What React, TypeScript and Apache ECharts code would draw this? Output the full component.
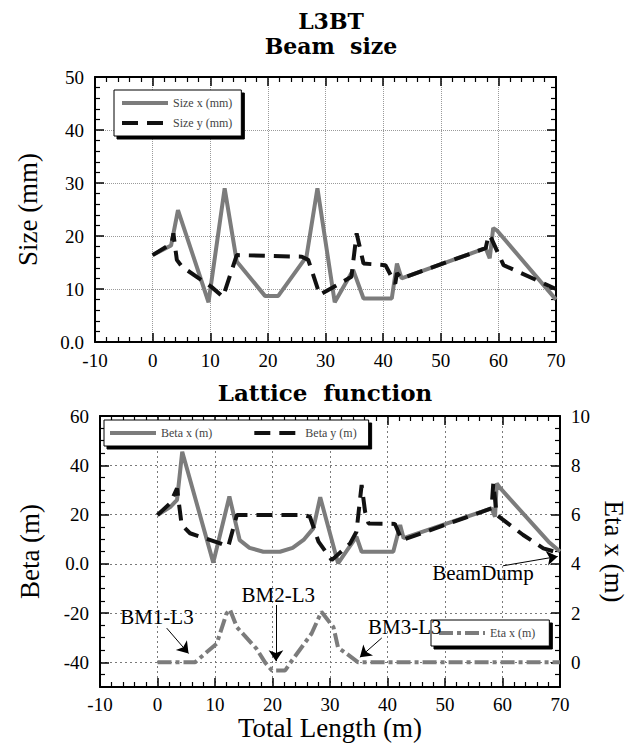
import { useEffect, useRef } from 'react';
import * as echarts from 'echarts';

// ---------- data (x in m) ----------
const sizeX: [number, number][] = [
  [0, 16.4], [3.2, 18.2], [4.4, 24.9], [9.7, 7.5], [12.5, 29], [14.6, 15.2], [19.5, 8.7], [21.8, 8.7],
  [26.7, 16.1], [28.6, 29], [31.6, 7.5], [34.8, 13.6], [36.6, 8.2], [41.5, 8.2], [42.4, 14.8], [43.2, 12],
  [57.8, 17.7], [58.5, 15.8], [59.1, 21.5], [59.8, 21], [70, 8],
];
const sizeY: [number, number][] = [
  [0, 16.4], [3.3, 18.6], [3.6, 20.5], [4.2, 15.5], [5.1, 14.2], [10.2, 10.4], [12.2, 8.5], [14.6, 16.4],
  [25.9, 16.1], [27, 15.5], [29, 8.9], [34.5, 12.3], [35.4, 20.5], [36.6, 14.8], [40.4, 14.5], [42.1, 11],
  [42.4, 13], [43.2, 12], [57.8, 17.7], [58.3, 20.2], [58.8, 19.5], [60.9, 14.5], [70, 10],
];
const betaX: [number, number][] = [
  [0, 19.8], [2.2, 23], [3.4, 26], [4.3, 45.5], [9.7, 0.5], [12.5, 27.3], [14.3, 9.6], [16, 6.5],
  [18.4, 4.9], [21.3, 4.9], [23.5, 6.5], [25.4, 9.7], [27.1, 14.4], [28.3, 27], [31.4, 0.2], [34.6, 11],
  [35.5, 4.9], [41, 4.9], [42.2, 15.8], [42.8, 10.4], [58.1, 22.5], [58.7, 19.1], [59, 32.7], [59.5, 31],
  [68, 9], [70, 5],
];
const betaY: [number, number][] = [
  [0, 19.8], [2.2, 24.6], [3.4, 30.6], [4.2, 15.8], [5.65, 12.4], [10.9, 8.3], [12.3, 7], [13.8, 19.8],
  [25.4, 19.8], [26.5, 19.1], [28, 9], [30.3, 1.5], [33.5, 8.3], [34.6, 13], [35.5, 32], [36.1, 21.2],
  [36.7, 16.4], [41.3, 16.2], [42.5, 9.6], [58.1, 22.5], [58.4, 32.7], [59, 19.8], [63.6, 11.7],
  [67.1, 6.3], [70, 4.3],
];
const etaX: [number, number][] = [
  [0, 0], [6.5, 0], [10.3, 0.76], [12, 1.98], [12.6, 2.14], [13.8, 1.43], [17.2, 0.56], [18.7, 0],
  [19.9, -0.33], [22.2, -0.33], [23, -0.05], [26.8, 1.17], [28.5, 2.05], [30.6, 1.43], [31.4, 0.6],
  [32.9, 0.35], [34.9, 0], [70, 0],
];

// annotations (Total Length, Beta)
const annotLabels: { name: string; coord: [number, number] }[] = [
  { name: 'BM1-L3', coord: [-0.1, -21.6] },
  { name: 'BM2-L3', coord: [21, -12.7] },
  { name: 'BM3-L3', coord: [43, -25.6] },
  { name: 'BeamDump', coord: [56.6, -3.7] },
];
const annotArrows: [[number, number], [number, number]][] = [
  [[1.6, -26.1], [5.4, -36.4]],
  [[20.6, -16.7], [20.6, -39.5]],
  [[39.0, -30.1], [35.2, -37.9]],
  [[60.1, -0.8], [69.6, 3.0]],
];

const SERIF = '"Liberation Serif", "Times New Roman", serif';
const TITLE_FONT = 'bold 22px "DejaVu Serif", serif';
const TITLE_FONT2 = 'bold 23px "DejaVu Serif", serif';

const axisLine = { show: true, onZero: false, lineStyle: { color: '#000', width: 2 } };
const noAxisLine = { show: false, onZero: false };
const majorTick = { show: true, inside: true, length: 9, lineStyle: { color: '#000', width: 1.5 } };
const minorTick = { show: true, splitNumber: 5, length: 5, lineStyle: { color: '#000', width: 1.2 } };
const minorTick4 = { ...minorTick, splitNumber: 4 };
const gridLine = { show: true, lineStyle: { color: '#9a9a9a', type: 'dotted', width: 1 } };
const gridLine2 = { show: true, lineStyle: { color: '#7a7a7a', type: [2, 3], width: 1 } };
const tickLabel = { color: '#000', fontSize: 19, fontFamily: SERIF };
const nameStyle = { color: '#000', fontSize: 27, fontFamily: SERIF };
const zeroFmt = (v: number) => (v === 0 ? '0.0' : String(v));
// the helper axes of the lower panel run on the negated value, so their labels show -v
const negFmt = (v: number) => (v === 0 ? '0.0' : String(-v));
const negFmtInt = (v: number) => String(v === 0 ? 0 : -v);

const legendBase = {
  backgroundColor: '#fff',
  borderColor: '#000',
  borderWidth: 1,
  shadowColor: '#000',
  shadowOffsetX: 3,
  shadowOffsetY: 3,
  shadowBlur: 0,
  itemWidth: 46,
  itemHeight: 12,
  itemStyle: { opacity: 0 },
  lineStyle: { width: 4 },
  textStyle: { fontFamily: SERIF, fontSize: 12, color: '#444' },
};

const grayLine = { color: '#7c7c7c', width: 4 };
const blackDash = { color: '#111', width: 4, type: [16, 9] };
const dashDot = { color: '#7c7c7c', width: 4, type: [14, 4, 4, 4] };

export default function App() {
  const ref = useRef<HTMLDivElement>(null);
  useEffect(() => {
    const chart = echarts.init(ref.current!, undefined, { renderer: 'svg' });
    const option: any = {
      animation: false,
      backgroundColor: '#fff',
      graphic: [
        { type: 'text', x: 331, y: 10, style: { text: 'L3BT', font: TITLE_FONT, textAlign: 'center', textVerticalAlign: 'top', fill: '#000' } },
        { type: 'text', x: 331, y: 35, style: { text: 'Beam  size', font: TITLE_FONT, textAlign: 'center', textVerticalAlign: 'top', fill: '#000' } },
        { type: 'text', x: 325, y: 381, style: { text: 'Lattice  function', font: TITLE_FONT2, textAlign: 'center', textVerticalAlign: 'top', fill: '#000' } },
      ],
      grid: [
        { left: 95, top: 77, width: 461, height: 265, outerBoundsMode: 'none', containLabel: false },
        { left: 100, top: 416, width: 460, height: 271, outerBoundsMode: 'none', containLabel: false },
      ],
      legend: [
        { ...legendBase, data: ['Size x (mm)', 'Size y (mm)'], orient: 'vertical', left: 114, top: 90, itemGap: 8, padding: [7, 9, 7, 6] },
        { ...legendBase, data: ['Beta x (m)', 'Beta y (m)'], orient: 'horizontal', left: 104, top: 420, itemGap: 40, padding: [7, 12, 7, 4] },
        { ...legendBase, data: ['Eta x (m)'], orient: 'horizontal', left: 431, top: 620, padding: [7, 14, 7, 6] },
      ],
      xAxis: [
        { type: 'value', gridIndex: 0, position: 'bottom', min: -10, max: 70, interval: 10, axisLine, axisTick: majorTick, minorTick, splitLine: gridLine, axisLabel: { ...tickLabel, margin: 9 } },
        { type: 'value', gridIndex: 0, position: 'top', min: -10, max: 70, interval: 10, axisLine, axisTick: majorTick, minorTick, splitLine: { show: false }, axisLabel: { show: false } },
        { type: 'value', gridIndex: 1, position: 'bottom', min: -10, max: 70, interval: 10, axisLine, axisTick: majorTick, minorTick, splitLine: gridLine2, axisLabel: { ...tickLabel, margin: 8 },
          name: 'Total Length (m)', nameLocation: 'middle', nameGap: 20, nameTextStyle: nameStyle },
        { type: 'value', gridIndex: 1, position: 'top', min: -10, max: 70, interval: 10, axisLine, axisTick: majorTick, minorTick, splitLine: { show: false }, axisLabel: { show: false } },
      ],
      yAxis: [
        { type: 'value', gridIndex: 0, position: 'left', min: 0, max: 50, interval: 10, axisLine, axisTick: majorTick, minorTick, splitLine: gridLine,
          axisLabel: { ...tickLabel, margin: 11, formatter: zeroFmt },
          name: 'Size (mm)', nameLocation: 'middle', nameRotate: 90, nameGap: 54, nameTextStyle: nameStyle },
        { type: 'value', gridIndex: 0, position: 'right', min: 0, max: 50, interval: 10, axisLine, axisTick: majorTick, minorTick, splitLine: { show: false }, axisLabel: { show: false } },
        // data axes of the lower panel
        { type: 'value', gridIndex: 1, position: 'left', min: -50, max: 60, axisLine, axisTick: { show: false }, axisLabel: { show: false }, splitLine: { show: false },
          name: 'Beta (m)', nameLocation: 'middle', nameRotate: 90, nameGap: 57, nameTextStyle: nameStyle },
        { type: 'value', gridIndex: 1, position: 'right', min: -1, max: 10, axisLine, axisTick: { show: false }, axisLabel: { show: false }, splitLine: { show: false },
          name: 'Eta x (m)', nameLocation: 'middle', nameRotate: -90, nameGap: 40, nameTextStyle: nameStyle },
        // tick axes of the lower panel: same extent, inverted and negated so that ticks start at -40 / 0
        { type: 'value', gridIndex: 1, position: 'left', inverse: true, min: -60, max: 50, interval: 20, axisLine: noAxisLine,
          axisTick: majorTick, minorTick: minorTick4, splitLine: gridLine2,
          axisLabel: { ...tickLabel, margin: 11, formatter: negFmt, showMaxLabel: false } },
        { type: 'value', gridIndex: 1, position: 'right', inverse: true, min: -10, max: 1, interval: 2, axisLine: noAxisLine,
          axisTick: majorTick, minorTick: minorTick4, splitLine: { show: false },
          axisLabel: { ...tickLabel, margin: 11, formatter: negFmtInt, showMaxLabel: false } },
      ],
      series: [
        { name: 'Size x (mm)', type: 'line', xAxisIndex: 0, yAxisIndex: 0, data: sizeX, symbol: 'none', lineStyle: grayLine, itemStyle: { color: grayLine.color }, z: 3 },
        { name: 'Size y (mm)', type: 'line', xAxisIndex: 0, yAxisIndex: 0, data: sizeY, symbol: 'none', lineStyle: blackDash, itemStyle: { color: '#111' }, z: 4 },
        {
          name: 'Beta x (m)', type: 'line', xAxisIndex: 2, yAxisIndex: 2, data: betaX, symbol: 'none', lineStyle: grayLine, itemStyle: { color: grayLine.color }, z: 3,
          markLine: {
            silent: true, symbol: ['none', 'arrow'], symbolSize: 11,
            lineStyle: { color: '#000', width: 1, type: 'solid' }, label: { show: false },
            emphasis: { disabled: true },
            data: annotArrows.map(([a, b]) => [{ coord: a }, { coord: b }]),
          },
          markPoint: {
            silent: true, symbol: 'rect', symbolSize: 1, itemStyle: { color: 'rgba(0,0,0,0)' },
            label: { show: true, position: 'inside', formatter: '{b}', fontFamily: SERIF, fontSize: 21, color: '#000' },
            data: annotLabels.map((a) => ({ name: a.name, coord: a.coord })),
          },
        },
        { name: 'Beta y (m)', type: 'line', xAxisIndex: 2, yAxisIndex: 2, data: betaY, symbol: 'none', lineStyle: blackDash, itemStyle: { color: '#111' }, z: 4 },
        { name: 'Eta x (m)', type: 'line', xAxisIndex: 2, yAxisIndex: 3, data: etaX, symbol: 'none', lineStyle: dashDot, itemStyle: { color: dashDot.color }, z: 3 },
      ],
    };
    chart.setOption(option);
    return () => chart.dispose();
  }, []);
  return <div ref={ref} style={{ position: 'fixed', left: 0, top: 0, width: 637, height: 747, background: '#fff' }} />;
}
